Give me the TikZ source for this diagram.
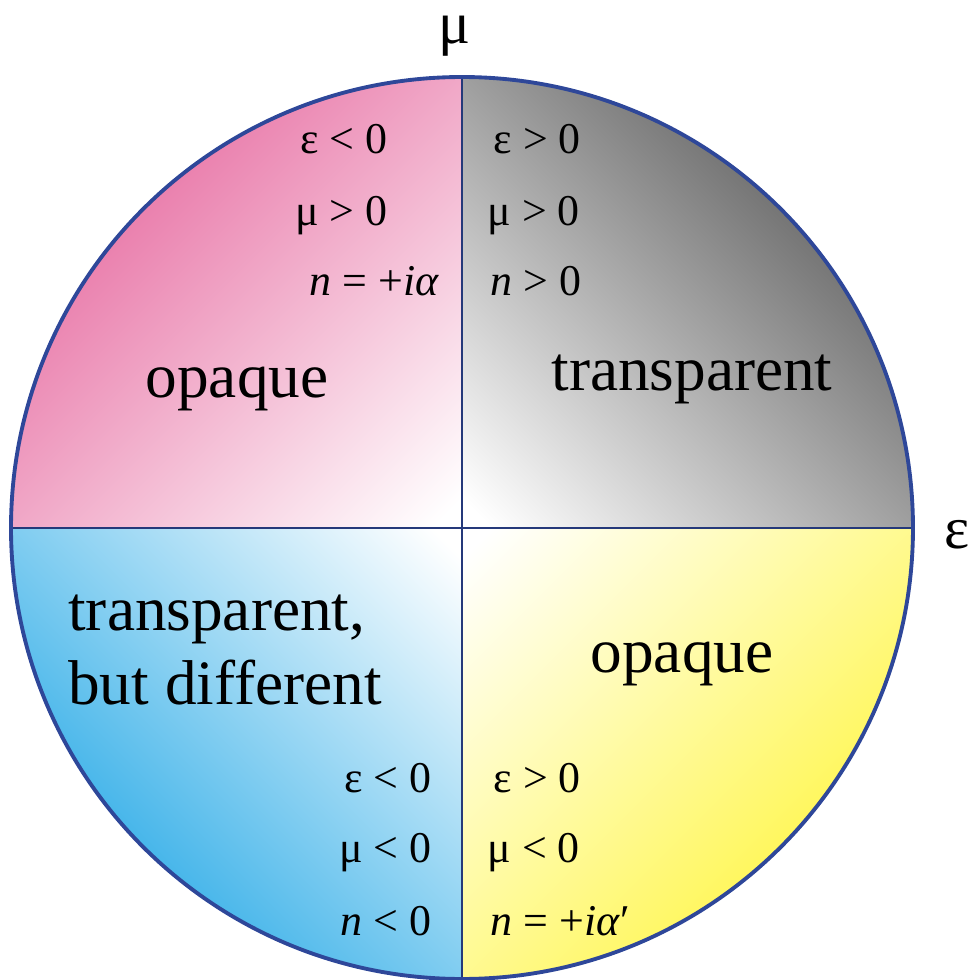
\documentclass[tikz,border=0pt]{standalone}
\usepackage{fontspec}
\setmainfont{Liberation Serif}
\usetikzlibrary{positioning}

\definecolor{pinkq}{HTML}{E2508F}
\definecolor{grayq}{HTML}{404040}
\definecolor{cyanq}{HTML}{009AE2}
\definecolor{yellowq}{HTML}{FFF420}
\definecolor{rimblue}{HTML}{2E4799}

\begin{document}
\begin{tikzpicture}[
            cond/.style={inner sep=0pt, font=\fontsize{12.5}{15}\selectfont},
            label/.style={inner sep=0pt, align=left, font=\fontsize{18}{21}\selectfont},
            axislabel/.style={inner sep=0pt, font=\fontsize{17}{20}\selectfont},
            rim/.style={draw=rimblue, line width=1.1pt},
            axis/.style={draw=rimblue!80!black, line width=0.6pt}
        ]
            \useasboundingbox (0,0) rectangle (9.72,9.80);
            \coordinate (O) at (4.62,4.52);

            % Quadrants
            \begin{scope}
                \clip (O) -- ++(-4.51,0) arc (180:90:4.51) -- cycle;
                \shade[top color=pinkq, middle color=pinkq!78!white, bottom color=white, shading angle=45]
                    (O) ++(-2.255,2.255) +(-3.0,-3.0) rectangle +(3.0,3.0);
            \end{scope}
            \begin{scope}
                \clip (O) -- ++(4.51,0) arc (0:90:4.51) -- cycle;
                \shade[top color=grayq, middle color=grayq!70!white, bottom color=white, shading angle=-45]
                    (O) ++(2.255,2.255) +(-3.0,-3.0) rectangle +(3.0,3.0);
            \end{scope}
            \begin{scope}
                \clip (O) -- ++(-4.51,0) arc (180:270:4.51) -- cycle;
                \shade[top color=white, middle color=cyanq!75!white, bottom color=cyanq, shading angle=-45]
                    (O) ++(-2.255,-2.255) +(-3.0,-3.0) rectangle +(3.0,3.0);
            \end{scope}
            \begin{scope}
                \clip (O) -- ++(4.51,0) arc (0:-90:4.51) -- cycle;
                \shade[top color=white, middle color=yellowq!80!white, bottom color=yellowq, shading angle=45]
                    (O) ++(2.255,-2.255) +(-3.0,-3.0) rectangle +(3.0,3.0);
            \end{scope}

            % Axes and rim
            \draw[axis] (O) ++(0,4.51) -- ++(0,-9.02);
            \draw[axis] (O) ++(-4.51,0) -- ++(9.02,0);
            \draw[rim] (O) circle (4.51);

            \node[axislabel] (mu) at (4.55,9.44) {μ};
            \node[axislabel] (eps) at (9.57,4.45) {ε};

            % Upper left
            \node[cond, anchor=base east] (tl1) at (3.88,8.27) {ε < 0};
            \node[cond, anchor=base east] (tl2) at (3.88,7.55) {μ > 0};
            \node[cond, anchor=base east] (tl3) at (4.40,6.85) {\textit{n} = +\textit{iα}};
            \node[label] (tlname) at (2.37,5.91) {opaque};

            % Upper right
            \node[cond, anchor=base west] (tr1) at (4.93,8.27) {ε > 0};
            \node[cond, anchor=base west] (tr2) at (4.87,7.55) {μ > 0};
            \node[cond, anchor=base west] (tr3) at (4.90,6.85) {\textit{n} > 0};
            \node[label] (trname) at (6.92,6.01) {transparent};

            % Lower left
            \node[label] (blname) at (2.25,3.30) {transparent,\\but different};
            \node[cond, anchor=base east] (bl1) at (4.32,1.88) {ε < 0};
            \node[cond, anchor=base east] (bl2) at (4.32,1.17) {μ < 0};
            \node[cond, anchor=base east] (bl3) at (4.32,0.45) {\textit{n} < 0};

            % Lower right
            \node[label] (brname) at (6.82,3.16) {opaque};
            \node[cond, anchor=base west] (br1) at (4.93,1.88) {ε > 0};
            \node[cond, anchor=base west] (br2) at (4.87,1.17) {μ < 0};
            \node[cond, anchor=base west] (br3) at (4.90,0.45) {\textit{n} = +\textit{iα}′};
        \end{tikzpicture}
\end{document}
